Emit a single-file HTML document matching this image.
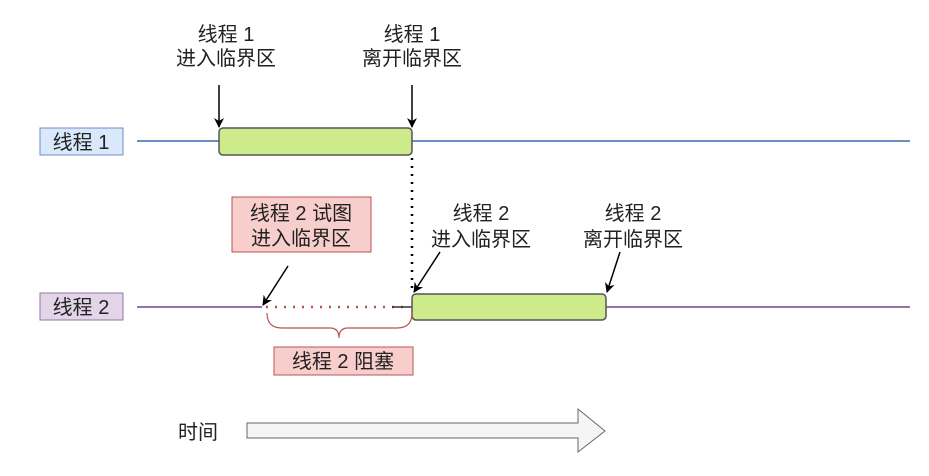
<!DOCTYPE html>
<html><head><meta charset="utf-8"><style>
body{margin:0;background:#fff;}
svg text{font-family:"Liberation Sans","Noto Sans CJK SC",sans-serif;font-size:20px;fill:#222;}
</style></head><body>
<svg width="929" height="471" viewBox="0 0 929 471" xmlns="http://www.w3.org/2000/svg">
<defs>
<marker id="ah" markerWidth="10" markerHeight="10" refX="9" refY="5" orient="auto" markerUnits="userSpaceOnUse">
<path d="M0,0 L10,5 L0,10 L3,5 z" fill="#000"/></marker>
</defs>
<rect x="40" y="128" width="83" height="27" fill="#dae8fc" stroke="#6c8ebf"/>
<text x="81" y="149" text-anchor="middle">线程 1</text>
<line x1="137" y1="141" x2="910" y2="141" stroke="#6c8ebf" stroke-width="2"/>
<rect x="219" y="128" width="193" height="27" rx="4" fill="#cdeb8b" stroke="#555" stroke-width="1.5"/>
<rect x="40" y="293" width="83" height="27" fill="#e1d5e7" stroke="#9673a6"/>
<text x="81" y="314" text-anchor="middle">线程 2</text>
<line x1="137" y1="307" x2="262" y2="307" stroke="#9673a6" stroke-width="2"/>
<line x1="606" y1="307" x2="910" y2="307" stroke="#9673a6" stroke-width="2"/>
<line x1="266" y1="307" x2="405" y2="307" stroke="#c0504d" stroke-width="2.5" stroke-dasharray="2,7"/>
<line x1="392" y1="307" x2="412" y2="307" stroke="#333" stroke-width="1.5"/>
<rect x="412" y="294" width="194" height="26" rx="4" fill="#cdeb8b" stroke="#555" stroke-width="1.5"/>
<line x1="412" y1="158" x2="412" y2="292" stroke="#000" stroke-width="2.5" stroke-dasharray="2,6"/>
<text x="226" y="41" text-anchor="middle">线程 1</text>
<text x="226" y="65" text-anchor="middle">进入临界区</text>
<text x="412" y="41" text-anchor="middle">线程 1</text>
<text x="412" y="65" text-anchor="middle">离开临界区</text>
<line x1="219" y1="85" x2="219" y2="127" stroke="#000" stroke-width="1.5" marker-end="url(#ah)"/>
<line x1="412" y1="85" x2="412" y2="127" stroke="#000" stroke-width="1.5" marker-end="url(#ah)"/>
<text x="481" y="220" text-anchor="middle">线程 2</text>
<text x="481" y="246" text-anchor="middle">进入临界区</text>
<text x="633" y="220" text-anchor="middle">线程 2</text>
<text x="633" y="246" text-anchor="middle">离开临界区</text>
<line x1="440" y1="252" x2="414" y2="292" stroke="#000" stroke-width="1.5" marker-end="url(#ah)"/>
<line x1="620" y1="252" x2="607" y2="292" stroke="#000" stroke-width="1.5" marker-end="url(#ah)"/>
<rect x="232" y="197" width="139" height="55" fill="#f8cecc" stroke="#b85450"/>
<text x="301" y="220" text-anchor="middle">线程 2 试图</text>
<text x="301" y="245" text-anchor="middle">进入临界区</text>
<line x1="288" y1="266" x2="263" y2="305" stroke="#000" stroke-width="1.5" marker-end="url(#ah)"/>
<path d="M267,313 Q267,328 282,328 L330,328 Q339,328 339,338 Q339,328 348,328 L397,328 Q412,328 412,313" fill="none" stroke="#b85450" stroke-width="1.2"/>
<rect x="274" y="347" width="139" height="28" fill="#f8cecc" stroke="#b85450"/>
<text x="343" y="368" text-anchor="middle">线程 2 阻塞</text>
<text x="198" y="439" text-anchor="middle">时间</text>
<path d="M247,423 L578,423 L578,409 L605,431 L578,452 L578,438 L247,438 Z" fill="#f5f5f5" stroke="#666" stroke-width="1"/>
</svg>
</body></html>
